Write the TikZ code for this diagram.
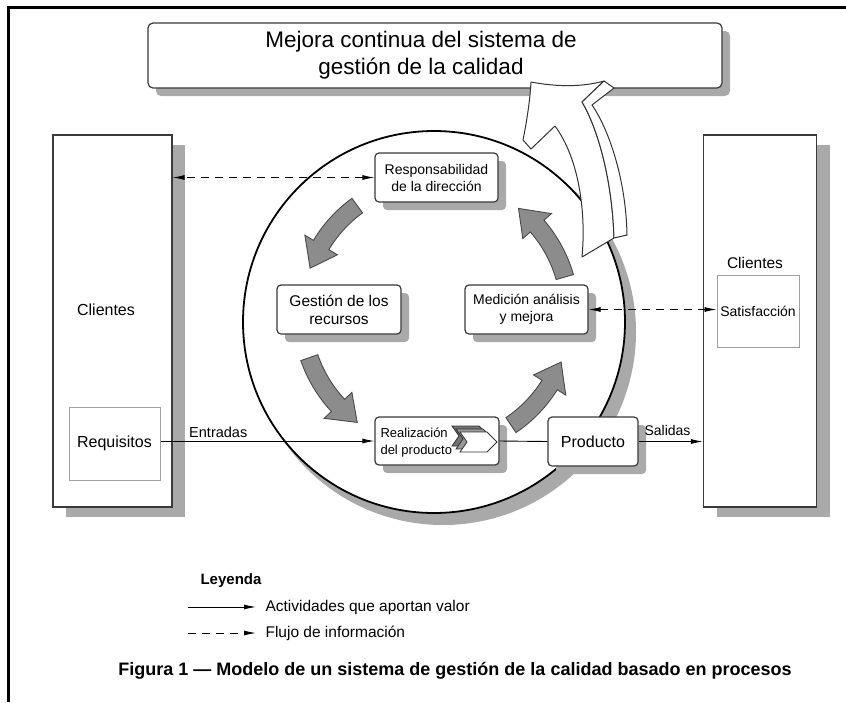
\documentclass[tikz,border=0pt]{standalone}
\usepackage{fontspec}
\setmainfont{Liberation Sans}
\usetikzlibrary{arrows.meta,shadows,calc}
\definecolor{shd}{HTML}{A9A9A9}
\definecolor{boxline}{HTML}{3A3A3A}
\definecolor{lightline}{HTML}{A0A0A0}
\definecolor{arrfill}{HTML}{8C8C8C}
\definecolor{arredge}{HTML}{4A4A4A}
\newcommand\fsz[2]{\fontsize{#1pt}{#2pt}\selectfont}
\newcommand\ringarrow[2]{%
  \pgfmathsetmacro\hb{#2+11}%
  \filldraw[ringarr] ($(ctr)+(#1:143)$) arc[start angle=#1, end angle=\hb, radius=143]
    -- ($(ctr)+(\hb:153)$) -- ($(ctr)+(#2:134)$) -- ($(ctr)+(\hb:115)$)
    -- ($(ctr)+(\hb:125)$) arc[start angle=\hb, end angle=#1, radius=125] -- cycle;}
\begin{document}
\begin{tikzpicture}[x=1pt,y=-1pt,
  box/.style={draw=boxline, line width=1.2pt, rounded corners=4pt, fill=white, align=center, inner sep=1pt,
    drop shadow={shadow xshift=8pt, shadow yshift=-8pt, fill=shd, opacity=1}},
  client/.style={draw=boxline, line width=1.2pt, fill=white, inner sep=0pt,
    drop shadow={shadow xshift=13pt, shadow yshift=-10pt, fill=shd, opacity=1}},
  inbox/.style={draw=lightline, line width=1pt, fill=white, inner sep=0pt},
  flow/.style={line width=0.9pt, -{Latex[length=12pt,width=5pt]}},
  info/.style={line width=0.9pt, dash pattern=on 8pt off 6pt, {Latex[length=12pt,width=5pt]}-{Latex[length=12pt,width=5pt]}},
  infoone/.style={line width=0.9pt, dash pattern=on 8pt off 6pt, -{Latex[length=12pt,width=5pt]}},
  ringarr/.style={fill=arrfill, draw=arredge, line width=0.9pt, line join=miter},
  bigarr/.style={fill=white, draw=black!80, line width=1pt, line join=round},
  chev/.style={draw=black!80, line width=0.8pt}
]
\useasboundingbox (0,0) rectangle (846,702);
\fill[white] (0,0) rectangle (846,702);
% frame
\draw[line width=3pt] (8,702) -- (8,7) -- (846,7);

% title box
\node[box, rounded corners=5pt, minimum width=574pt, minimum height=65pt] (title) at (435,55.5) {};
\node[align=center, font=\fsz{22.5}{27.5}] (titletext) at (421,55) {Mejora continua del sistema de\\gestión de la calidad};

% client boxes
\node[client, minimum width=119pt, minimum height=372pt] (cliL) at (112.5,321) {};
\node[font=\fsz{16}{19}] (cliLtxt) at (106,310) {Clientes};
\node[inbox, minimum width=91pt, minimum height=73pt, font=\fsz{16}{19}] (req) at (114.5,443.5) {Requisitos};

\node[client, minimum width=113pt, minimum height=372pt] (cliR) at (760,321) {};
\node[font=\fsz{15.5}{19}] (cliRtxt) at (755,263) {Clientes};
\node[inbox, minimum width=82pt, minimum height=72pt, font=\fsz{14}{17}] (sat) at (758,311) {Satisfacción};

% circle
\fill[shd] (443,332) circle[radius=193];
\draw[line width=1.8pt, fill=white] (434,322) circle[radius=191];

% inner nodes
\node[box, minimum width=123pt, minimum height=49pt, font=\fsz{14}{17}] (resp) at (436.5,177.5) {Responsabilidad\\de la dirección};
\node[box, minimum width=124pt, minimum height=49pt, font=\fsz{15.5}{18}] (gest) at (339,309.5) {Gestión de los\\recursos};
\node[box, minimum width=123pt, minimum height=49pt, font=\fsz{14}{17}] (med) at (526.5,309.5) {Medición análisis\\y mejora};
\node[box, minimum width=124pt, minimum height=48pt] (real) at (437,441) {};
\node[align=left, anchor=west, font=\fsz{13}{17}] (realtxt) at (377,443) {Realización\\del producto};
\node[box, minimum width=90pt, minimum height=49pt, font=\fsz{16}{19}] (prod) at (593,441.5) {Producto};

% chevron icon
\foreach \dx/\dy/\c in {-8/-6/black!55, -4/-3/black!40, 0/0/white}{
  \filldraw[chev, fill=\c, shift={(\dx,\dy)}] (460,432) -- (487,432) -- (497,442) -- (487,452) -- (460,452) -- (467,442) -- cycle;
}

% ring arrows
\coordinate (ctr) at (436,314);
\ringarrow{-126}{-160}
\ringarrow{-199}{-234}
\ringarrow{-304}{-339}
\ringarrow{-16}{-52}

% big improvement arrow
\filldraw[bigarr] (531,82) .. controls (557,87) and (583,87) .. (604,81)
  -- (582,102) .. controls (596,125) and (612,175) .. (614,238)
  -- (582,257) .. controls (586,215) and (580,160) .. (555,126)
  -- (531,149) -- (523,140) .. controls (527,120) and (530,100) .. (531,82) -- cycle;
\filldraw[bigarr] (604,81) -- (614,88) -- (592,105) .. controls (608,128) and (626,178) .. (627,235)
  -- (614,238) .. controls (612,175) and (596,125) .. (582,102) -- cycle;

% connectors
\draw[info] (resp.west) -- (cliL.east |- resp.west);
\draw[info] (med.east) -- (sat.west |- med.east);
\draw[flow] (req.east |- real.west) -- node[above, font=\fsz{14.5}{17}, pos=0.27] {Entradas} (real.west);
\draw[line width=0.9pt] (real.east) -- (prod.west);
\draw[flow] (prod.east) -- node[above, font=\fsz{14}{17}, pos=0.45, yshift=2pt] {Salidas} (cliR.west |- prod.east);

% legend
\node[font=\bfseries\fsz{15}{18}] (ley) at (231,581) {Leyenda};
\coordinate (la1) at (188,607); \coordinate (lb1) at (256,607);
\coordinate (la2) at (188,633); \coordinate (lb2) at (256,633);
\draw[flow] (la1) -- (lb1);
\draw[infoone] (la2) -- (lb2);
\node[anchor=west, font=\fsz{15.5}{18}] (lt1) at (262,607) {Actividades que aportan valor};
\node[anchor=west, font=\fsz{15.5}{18}] (lt2) at (262,633) {Flujo de información};

% caption
\node[font=\bfseries\fsz{18}{21}] (cap) at (455,671) {Figura 1 — Modelo de un sistema de gestión de la calidad basado en procesos};
\end{tikzpicture}
\end{document}
